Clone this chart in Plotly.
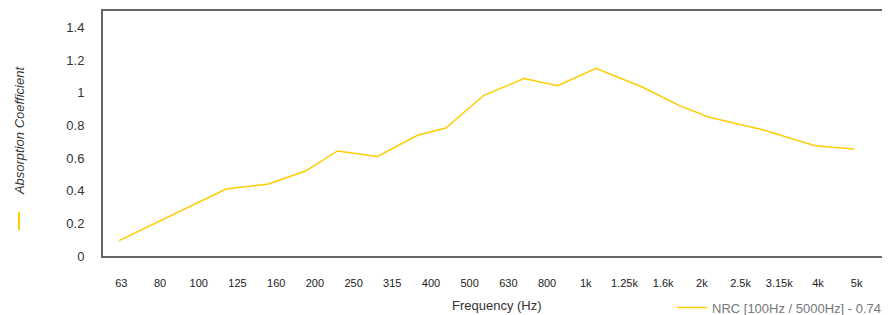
import plotly.graph_objects as go

# ---- data ----
band_labels = ["63", "80", "100", "125", "160", "200", "250", "315", "400", "500",
               "630", "800", "1k", "1.25k", "1.6k", "2k", "2.5k", "3.15k", "4k", "5k"]
# exact one-third-octave band centre frequencies (Hz) for the labels above
band_centres = [63.1, 79.4, 100.0, 125.9, 158.5, 199.5, 251.2, 316.2, 398.1, 501.2,
                631.0, 794.3, 1000.0, 1258.9, 1584.9, 1995.3, 2511.9, 3162.3, 3981.1, 5011.9]

curve_freqs = [63, 119, 153, 191, 231, 293, 372, 440, 552, 701,
               856, 1076, 1420, 1774, 2100, 2913, 3958, 5000]
curve_values = [0.094, 0.41, 0.441, 0.52, 0.643, 0.61, 0.739, 0.784, 0.984, 1.086,
                1.043, 1.149, 1.033, 0.919, 0.851, 0.772, 0.675, 0.655]

y_ticks = [0, 0.2, 0.4, 0.6, 0.8, 1.0, 1.2, 1.4]
y_ticklabels = ["0", "0.2", "0.4", "0.6", "0.8", "1", "1.2", "1.4"]

series_name = "NRC [100Hz / 5000Hz] - 0.74"
yellow = "#FFCC00"
font_family = "Liberation Sans, Arial, sans-serif"

fig = go.Figure()
fig.add_trace(go.Scatter(
    x=curve_freqs, y=curve_values, mode="lines", name=series_name,
    line=dict(color=yellow, width=1.5), showlegend=True,
))

# The page body has an 8px margin, so the figure is sized/offset to fit the window.
fig.update_layout(
    width=882, height=307,
    margin=dict(l=95, r=0, t=3, b=59, autoexpand=False),
    paper_bgcolor="white", plot_bgcolor="white",
    font=dict(family=font_family, size=13, color="#333"),
    showlegend=True,
    legend=dict(orientation="h", x=0.723, xanchor="left", y=-0.149, yanchor="top",
                font=dict(size=13, color="#777"), bgcolor="rgba(0,0,0,0)"),
    xaxis=dict(
        type="log",
        range=[1.7577, 3.7913],
        tickmode="array", tickvals=band_centres, ticktext=band_labels,
        tickfont=dict(size=11, color="#222"),
        showgrid=False, zeroline=False,
        showline=True, linecolor="#666", linewidth=2, mirror=True,
        ticks="", ticklabelstandoff=16, ticklabelshift=2,
        fixedrange=True,
    ),
    yaxis=dict(
        range=[0, 1.5],
        tickmode="array", tickvals=y_ticks, ticktext=y_ticklabels,
        tickfont=dict(size=13, color="#333"),
        showgrid=False, zeroline=False,
        showline=True, linecolor="#666", linewidth=2, mirror=False,
        ticks="", ticklabelstandoff=14,
        fixedrange=True,
    ),
    annotations=[
        dict(text="Absorption Coefficient", xref="paper", yref="paper",
             x=-0.1067, y=0.514, xanchor="center", yanchor="middle",
             textangle=-90, showarrow=False,
             font=dict(size=13, color="#333", style="italic")),
        dict(text="Frequency (Hz)", xref="paper", yref="paper",
             x=0.5, y=-0.204, xanchor="center", yanchor="middle",
             showarrow=False, font=dict(size=13, color="#333")),
    ],
    shapes=[
        dict(type="line", xref="paper", yref="paper",
             x0=-0.1067, x1=-0.1067, y0=0.106, y1=0.181,
             line=dict(color=yellow, width=2)),
    ],
)

fig.write_html("out.html")
